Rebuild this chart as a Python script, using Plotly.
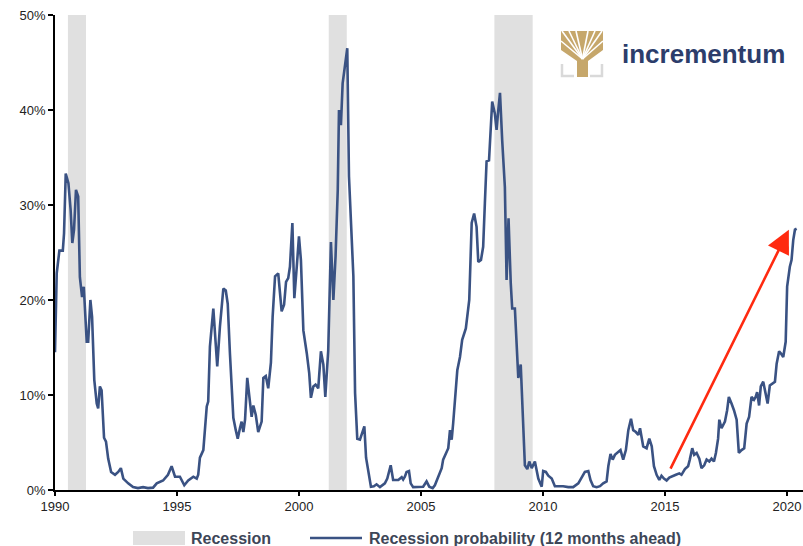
import plotly.graph_objects as go

# ---- Data ----
years = [
    1990.00, 1990.07, 1990.18, 1990.32, 1990.37, 1990.44, 1990.55, 1990.64, 1990.71, 1990.78,
    1990.86, 1990.95, 1991.02, 1991.11, 1991.18, 1991.24, 1991.30, 1991.36, 1991.45, 1991.52,
    1991.61, 1991.71, 1991.77, 1991.84, 1991.91, 1992.01, 1992.09, 1992.18, 1992.30, 1992.46,
    1992.59, 1992.70, 1992.80, 1993.00, 1993.20, 1993.40, 1993.61, 1993.81, 1994.02, 1994.17,
    1994.43, 1994.63, 1994.78, 1994.92, 1995.12, 1995.30, 1995.46, 1995.67, 1995.81, 1995.87,
    1995.94, 1996.08, 1996.15, 1996.22, 1996.28, 1996.35, 1996.49, 1996.56, 1996.65, 1996.76,
    1996.90, 1997.00, 1997.08, 1997.17, 1997.24, 1997.31, 1997.41, 1997.49, 1997.58, 1997.65,
    1997.72, 1997.79, 1997.88, 1997.99, 1998.06, 1998.13, 1998.23, 1998.33, 1998.47, 1998.54,
    1998.64, 1998.74, 1998.85, 1998.92, 1999.02, 1999.15, 1999.29, 1999.39, 1999.47, 1999.56,
    1999.63, 1999.73, 1999.81, 1999.91, 2000.00, 2000.08, 2000.18, 2000.32, 2000.42, 2000.49,
    2000.59, 2000.68, 2000.79, 2000.90, 2001.00, 2001.08, 2001.20, 2001.31, 2001.41, 2001.50,
    2001.59, 2001.64, 2001.72, 2001.79, 2001.89, 2001.98, 2002.05, 2002.13, 2002.23, 2002.30,
    2002.39, 2002.50, 2002.59, 2002.68, 2002.75, 2002.84, 2002.95, 2003.07, 2003.18, 2003.32,
    2003.52, 2003.62, 2003.76, 2003.86, 2004.07, 2004.21, 2004.27, 2004.34, 2004.41, 2004.51,
    2004.58, 2004.68, 2004.89, 2005.09, 2005.23, 2005.34, 2005.48, 2005.57, 2005.71, 2005.85,
    2005.91, 2006.05, 2006.12, 2006.19, 2006.26, 2006.32, 2006.39, 2006.49, 2006.60, 2006.69,
    2006.84, 2006.98, 2007.08, 2007.18, 2007.28, 2007.35, 2007.46, 2007.55, 2007.62, 2007.69,
    2007.79, 2007.86, 2007.92, 2008.03, 2008.10, 2008.17, 2008.24, 2008.33, 2008.44, 2008.51,
    2008.59, 2008.68, 2008.74, 2008.85, 2008.99, 2009.09, 2009.19, 2009.26, 2009.36, 2009.44,
    2009.54, 2009.67, 2009.81, 2009.95, 2010.01, 2010.12, 2010.22, 2010.36, 2010.49, 2010.83,
    2011.04, 2011.24, 2011.45, 2011.59, 2011.72, 2011.86, 2011.95, 2012.06, 2012.20, 2012.34,
    2012.47, 2012.61, 2012.68, 2012.77, 2012.86, 2012.95, 2013.05, 2013.18, 2013.29, 2013.40,
    2013.50, 2013.61, 2013.70, 2013.81, 2013.91, 2013.98, 2014.11, 2014.25, 2014.36, 2014.46,
    2014.55, 2014.66, 2014.77, 2014.86, 2014.96, 2015.07, 2015.18, 2015.32, 2015.45, 2015.59,
    2015.68, 2015.82, 2015.95, 2016.02, 2016.12, 2016.20, 2016.30, 2016.41, 2016.50, 2016.61,
    2016.71, 2016.82, 2016.91, 2017.01, 2017.09, 2017.18, 2017.23, 2017.32, 2017.46, 2017.55,
    2017.62, 2017.73, 2017.83, 2017.94, 2018.03, 2018.14, 2018.25, 2018.35, 2018.45, 2018.55,
    2018.65, 2018.72, 2018.78, 2018.86, 2018.93, 2019.03, 2019.13, 2019.21, 2019.30, 2019.40,
    2019.51, 2019.58, 2019.68, 2019.75, 2019.85, 2019.95, 2020.01, 2020.12, 2020.19, 2020.26,
    2020.33, 2020.40,
]
probability = [
    14.5, 22.8, 25.2, 25.2, 27.0, 33.3, 32.3, 29.5, 26.0, 27.4,
    31.6, 30.9, 22.4, 20.3, 21.4, 18.2, 15.6, 15.6, 20.0, 18.2,
    11.6, 9.1, 8.6, 10.9, 10.5, 5.5, 5.1, 3.3, 1.9, 1.6,
    1.9, 2.3, 1.2, 0.7, 0.3, 0.2, 0.3, 0.2, 0.25, 0.7,
    1.0, 1.6, 2.5, 1.4, 1.4, 0.5, 1.0, 1.4, 1.2, 1.6,
    3.4, 4.2, 6.7, 8.8, 9.3, 15.1, 19.1, 16.8, 13.0, 17.2,
    21.2, 21.0, 19.6, 14.4, 10.2, 7.6, 6.3, 5.4, 6.5, 7.2,
    6.1, 7.4, 11.8, 8.8, 7.7, 8.9, 7.9, 6.1, 7.2, 11.8,
    12.0, 10.7, 13.4, 18.2, 22.5, 22.8, 18.8, 19.5, 21.9, 22.3,
    23.5, 28.1, 20.2, 23.5, 26.7, 24.2, 16.8, 14.4, 12.3, 9.7,
    10.9, 11.1, 10.7, 14.6, 13.2, 9.8, 14.7, 26.1, 20.0, 24.6,
    31.6, 40.0, 38.4, 42.8, 44.7, 46.5, 33.0, 27.7, 22.5, 10.2,
    5.4, 5.3, 6.0, 6.7, 3.4, 1.8, 0.35, 0.4, 0.6, 0.3,
    0.7, 1.2, 2.6, 1.05, 1.05, 1.35, 1.1, 1.4, 1.9, 2.0,
    0.7, 0.3, 0.3, 0.35, 0.9, 0.35, 0.2, 0.5, 1.4, 2.3,
    3.2, 3.9, 4.4, 6.3, 5.3, 7.0, 9.5, 12.6, 14.0, 15.8,
    17.0, 20.0, 28.1, 29.1, 27.7, 24.0, 24.2, 25.6, 30.2, 34.6,
    34.7, 37.5, 40.9, 39.6, 37.9, 40.0, 41.8, 36.8, 31.9, 22.1,
    28.6, 21.8, 19.1, 19.1, 11.8, 13.2, 6.3, 2.6, 2.2, 3.0,
    2.3, 3.0, 1.2, 0.35, 2.0, 1.9, 1.5, 1.2, 0.4, 0.4,
    0.3, 0.3, 0.7, 1.4, 1.9, 2.0, 1.05, 0.4, 0.3, 0.4,
    0.7, 0.9, 2.5, 3.8, 3.2, 3.7, 3.9, 4.2, 3.2, 4.2,
    6.3, 7.5, 6.3, 6.1, 5.8, 6.5, 4.6, 4.4, 5.4, 4.6,
    2.5, 1.6, 1.05, 1.5, 1.2, 1.0, 1.3, 1.5, 1.6, 1.75,
    1.6, 2.2, 2.5, 3.2, 4.4, 3.7, 3.9, 3.3, 2.3, 2.6,
    3.2, 3.0, 3.3, 3.0, 3.9, 5.4, 7.4, 6.5, 7.2, 8.4,
    9.8, 9.1, 8.4, 7.4, 3.9, 4.2, 4.4, 7.0, 7.7, 9.8,
    9.5, 9.8, 10.3, 8.9, 10.9, 11.4, 10.0, 9.1, 11.0, 11.2,
    11.4, 13.3, 14.6, 14.4, 14.0, 15.6, 21.4, 23.5, 24.2, 26.3,
    27.4, 27.5,
]

recession_start = [1990.53, 2001.22, 2008.01]
recession_end = [1991.27, 2001.96, 2009.58]

x_ticks = [1990, 1995, 2000, 2005, 2010, 2015, 2020]
y_ticks = [0, 10, 20, 30, 40, 50]

arrow_tail = (2015.2, 2.1)
arrow_tip = (2020.08, 27.4)

legend_labels = ["Recession", "Recession probability (12 months ahead)"]
logo_text = "incrementum"

# ---- Styling ----
W, H = 803, 546
ML, MR, MT, MB = 55, 0, 15, 56
LINE_COLOR = "#3a5283"
REC_COLOR = "#e0e0e0"
GOLD = "#c6a76b"
NAVY = "#2c3d6b"
LEG_TEXT = "#3d4657"
FONT = "Liberation Sans, Arial, sans-serif"
LEG_Y = 538

pw = W - ML - MR
ph = H - MT - MB


def px(x):
    return (x - ML) / pw


def py(y):
    return (H - MB - y) / ph


fig = go.Figure()

fig.add_trace(go.Scatter(
    x=years, y=probability, mode="lines",
    line=dict(color=LINE_COLOR, width=2.6),
    name=legend_labels[1], showlegend=False, hoverinfo="x+y",
))

shapes = []
for s, e in zip(recession_start, recession_end):
    shapes.append(dict(type="rect", xref="x", yref="y", x0=s, x1=e, y0=0, y1=50,
                       fillcolor=REC_COLOR, line=dict(width=0), layer="below"))

# manual legend
shapes.append(dict(type="rect", xref="paper", yref="paper",
                   x0=px(133), x1=px(185), y0=py(LEG_Y + 7), y1=py(LEG_Y - 7),
                   fillcolor=REC_COLOR, line=dict(width=0)))
shapes.append(dict(type="line", xref="paper", yref="paper",
                   x0=px(310), x1=px(362), y0=py(LEG_Y), y1=py(LEG_Y),
                   line=dict(color=LINE_COLOR, width=2.6)))


# logo: simplified tree
def ppath(pts, close=True):
    d = "M " + " L ".join(f"{px(a):.5f},{py(b):.5f}" for a, b in pts)
    return d + (" Z" if close else "")


shapes.append(dict(type="path", xref="paper", yref="paper",
                   path=ppath([(561, 31), (603, 31), (603, 50), (588, 61), (588, 77),
                               (577, 77), (577, 61), (561, 50)]),
                   fillcolor=GOLD, line=dict(width=0)))
for tx, ty in [(561, 41), (562, 31), (569, 31), (576, 31), (588, 31), (595, 31), (602, 31), (603, 41)]:
    shapes.append(dict(type="line", xref="paper", yref="paper",
                       x0=px(582.5), y0=py(59), x1=px(tx), y1=py(ty),
                       line=dict(color="white", width=1.6)))
shapes.append(dict(type="path", xref="paper", yref="paper",
                   path=ppath([(562, 64), (562, 76), (574, 76)], close=False),
                   line=dict(color="#d9d9d9", width=2.5)))
shapes.append(dict(type="path", xref="paper", yref="paper",
                   path=ppath([(602, 64), (602, 76), (590, 76)], close=False),
                   line=dict(color="#d9d9d9", width=2.5)))

annotations = [
    dict(xref="paper", yref="paper", x=px(189), y=py(LEG_Y), text="<b>" + legend_labels[0] + "</b>",
         showarrow=False, xanchor="left", yanchor="middle",
         font=dict(family=FONT, size=16, color=LEG_TEXT)),
    dict(xref="paper", yref="paper", x=px(367), y=py(LEG_Y), text="<b>" + legend_labels[1] + "</b>",
         showarrow=False, xanchor="left", yanchor="middle",
         font=dict(family=FONT, size=16, color=LEG_TEXT)),
    dict(xref="paper", yref="paper", x=px(620), y=py(54), text="<b>" + logo_text + "</b>",
         showarrow=False, xanchor="left", yanchor="middle",
         font=dict(family=FONT, size=26, color=NAVY)),
    dict(x=arrow_tip[0], y=arrow_tip[1], ax=arrow_tail[0], ay=arrow_tail[1],
         xref="x", yref="y", axref="x", ayref="y", text="", showarrow=True,
         arrowhead=2, arrowsize=1.8, arrowwidth=2.6, arrowcolor="#ff2a10"),
]

fig.update_layout(
    width=W, height=H,
    margin=dict(l=ML, r=MR, t=MT, b=MB),
    plot_bgcolor="white", paper_bgcolor="white",
    showlegend=False,
    shapes=shapes, annotations=annotations,
    font=dict(family=FONT, size=13, color="#222222"),
    xaxis=dict(range=[1990, 2020.66], tickvals=x_ticks, ticktext=[str(t) for t in x_ticks],
               showgrid=False, zeroline=False, showline=True, linecolor="black", linewidth=1.5,
               ticks="outside", ticklen=4, tickcolor="black", tickwidth=1.5,
               tickfont=dict(size=13, color="#222222")),
    yaxis=dict(range=[0, 50], tickvals=y_ticks, ticktext=[f"{t}%" for t in y_ticks],
               showgrid=False, zeroline=False, showline=True, linecolor="black", linewidth=1.5,
               ticks="outside", ticklen=5, tickcolor="black", tickwidth=1.5,
               tickfont=dict(size=13, color="#222222")),
)

fig.write_html("out.html", config={"displayModeBar": False},
               post_script="document.body.style.margin='0px';")
